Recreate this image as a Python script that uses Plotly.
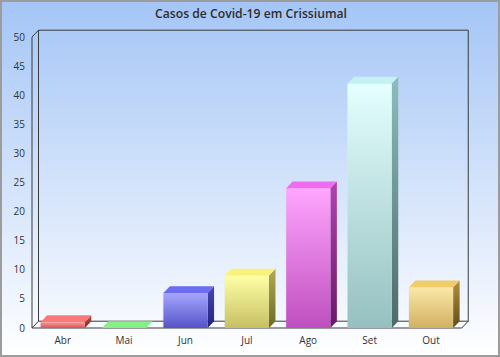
import base64
import plotly.graph_objects as go

# ---- data ----
months = ["Abr", "Mai", "Jun", "Jul", "Ago", "Set", "Out"]
cases = [1, 0, 6, 9, 24, 42, 7]
y_ticks = [0, 5, 10, 15, 20, 25, 30, 35, 40, 45, 50]
title_text = "Casos de Covid-19 em Crissiumal"

# ---- styles (front top, front bottom, top face, side top, side bottom) ----
bar_styles = [
    ("#f79a9a", "#d65454", "#f77a7a", "#c04848", "#8a2626"),
    ("#9cf59c", "#5ccc5c", "#86f086", "#5cb85c", "#2f7a2f"),
    ("#a6a6ff", "#5454c8", "#6c6cf0", "#4646b4", "#22227a"),
    ("#ffffa6", "#c6c062", "#f8f27c", "#b0aa52", "#6c6a2a"),
    ("#ffa6ff", "#bf4fbf", "#ef6cef", "#b043b0", "#6a186a"),
    ("#e4ffff", "#96c0c0", "#c4f2f2", "#8ebcbc", "#4c6a6a"),
    ("#fbe8a8", "#d2b062", "#f0cc6a", "#b49040", "#5e4a1c"),
]

W, H = 500, 357
ML, MR, MT, MB = 31, 29, 28, 27
PW, PH = W - ML - MR, H - MT - MB
X0, X1 = -0.5163, 6.651
Y0, Y1 = -0.344, 51.546
HW = 0.36     # half bar width (category units)
DX = 0.106    # depth offset x (category units)
DY = 1.17     # depth offset y (value units)
XL, XR = -0.5, len(months) - 0.5
YT = y_ticks[-1]
LINE = "#3a3a3a"

fig = go.Figure()

def seg(xs, ys, color=LINE, width=1):
    fig.add_trace(go.Scatter(x=xs, y=ys, mode="lines",
                             line=dict(color=color, width=width),
                             hoverinfo="skip", showlegend=False))

# walls / floor (3D frame)
seg([XL, XL + DX, XR + DX, XR + DX], [YT, YT + DY, YT + DY, DY])
seg([XL + DX, XL + DX], [DY, YT + DY])
seg([XL, XL], [0, YT])
seg([XL, XL + DX, XR + DX], [0, DY, DY])
seg([XL, XR, XR + DX], [0, 0, DY])

def face(xs, ys, c_lo, c_hi, solid=None):
    kw = {}
    if solid is None:
        kw["fillgradient"] = dict(type="vertical",
                                  colorscale=[[0, c_lo], [1, c_hi]])
        kw["fillcolor"] = c_hi
    else:
        kw["fillcolor"] = solid
    fig.add_trace(go.Scatter(x=xs, y=ys, mode="lines", fill="toself",
                             line=dict(width=0, color="rgba(0,0,0,0)"),
                             hoverinfo="skip", showlegend=False, **kw))

for i, (m, v) in enumerate(zip(months, cases)):
    ft, fb, tp, st, sb = bar_styles[i]
    l, r = i - HW, i + HW
    face([r, r + DX, r + DX, r, r], [0, DY, v + DY, v, 0], sb, st)
    if v > 0:
        face([l, r, r, l, l], [0, 0, v, v, 0], fb, ft)
    face([l, r, r + DX, l + DX, l], [v, v, v + DY, v + DY, v], None, None, solid=tp)

fig.add_trace(go.Bar(x=list(range(len(months))), y=cases, width=2 * HW,
                     marker=dict(color="rgba(0,0,0,0)"),
                     hovertext=months, showlegend=False))

svg = ('<svg xmlns="http://www.w3.org/2000/svg" width="500" height="357" '
       'preserveAspectRatio="none"><defs><linearGradient id="g" x1="0" y1="0" x2="0" y2="1">'
       '<stop offset="0" stop-color="#a4c5f6"/><stop offset="1" stop-color="#ffffff"/>'
       '</linearGradient></defs><rect width="500" height="357" fill="url(#g)"/></svg>')
src = "data:image/svg+xml;base64," + base64.b64encode(svg.encode()).decode()

fig.update_layout(
    width=W, height=H,
    margin=dict(l=ML, r=MR, t=MT, b=MB, pad=0, autoexpand=False),
    paper_bgcolor="white", plot_bgcolor="rgba(0,0,0,0)",
    font=dict(family="Open Sans", size=10, color="#333333"),
    title=dict(text=title_text, x=0.5, xref="paper", xanchor="center",
               y=1 - 13.5 / H, yref="container", yanchor="middle",
               font=dict(family="Open Sans", size=12.2, color="#2e2e2e", weight=600)),
    showlegend=False,
    images=[dict(source=src, xref="paper", yref="paper",
                 x=-ML / PW, y=1 + MT / PH, sizex=W / PW, sizey=H / PH,
                 xanchor="left", yanchor="top", sizing="stretch", layer="below")],
    shapes=[dict(type="rect", xref="paper", yref="paper",
                 x0=-(ML - 1) / PW, x1=1 + (MR - 1) / PW,
                 y0=-(MB - 1) / PH, y1=1 + (MT - 1) / PH,
                 line=dict(color="#9c9c9c", width=2), fillcolor="rgba(0,0,0,0)",
                 layer="above")],
    xaxis=dict(range=[X0, X1], tickmode="array", tickvals=list(range(len(months))),
               ticktext=months, showgrid=False, zeroline=False, showline=False,
               ticks="outside", ticklen=1, tickcolor="rgba(0,0,0,0)", fixedrange=True,
               automargin=False),
    yaxis=dict(range=[Y0, Y1], tickmode="array", tickvals=y_ticks,
               ticktext=[str(t) for t in y_ticks], showgrid=False, zeroline=False,
               showline=False, ticks="outside", ticklen=3, tickcolor="rgba(0,0,0,0)",
               fixedrange=True, automargin=False),
    bargap=0,
)

fig.write_html("out.html", config={"displayModeBar": False},
               post_script="document.body.style.margin='0';document.body.style.overflow='hidden';")
